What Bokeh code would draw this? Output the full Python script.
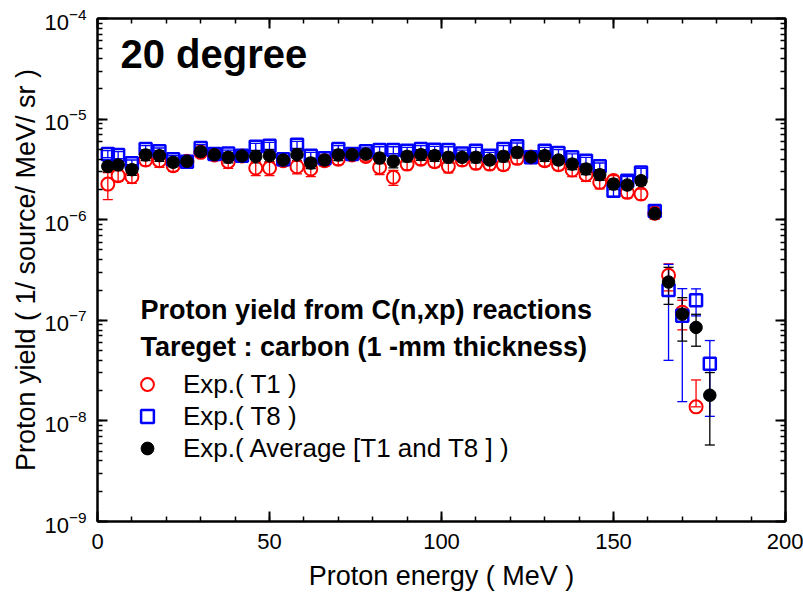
import math
from bokeh.plotting import figure
from bokeh.models import (Range1d, FixedTicker, LogTickFormatter, LinearAxis, LogAxis,
                          Whisker, TeeHead, ColumnDataSource, Label, Legend, LegendItem,
                          CustomJSTickFormatter)
from bokeh.embed import file_html
from bokeh.resources import INLINE

# ---------------- data ----------------
energy = [3, 6, 10, 14, 18, 22, 26, 30, 34, 38, 42, 46, 50, 54, 58, 62, 66, 70, 74, 78,
          82, 86, 90, 94, 98, 102, 106, 110, 114, 118, 122, 126, 130, 134, 138, 142, 146,
          150, 154, 158, 162, 166, 170, 174, 178]

# yields in units of 1e-6 (1/source/MeV/sr)
t1 = [2.26, 2.74, 2.67, 3.92, 3.86, 3.44, 3.80, 4.67, 4.40, 3.77, 4.30, 3.26, 3.26, 3.86,
      3.36, 3.19, 3.86, 4.00, 4.40, 4.26, 3.31, 2.64, 3.57, 4.00, 3.77, 3.39, 3.92, 3.63,
      3.57, 3.52, 4.07, 4.20, 3.86, 3.52, 3.12, 2.80, 2.35, 2.45, 1.87, 1.80, 1.16, 0.28,
      0.12, 0.0138, float("nan")]
t8 = [4.50, 4.40, 3.63, 5.04, 4.78, 4.00, 3.77, 5.15, 4.50, 4.56, 4.33, 5.32, 5.44, 4.00,
      5.56, 4.33, 4.07, 5.04, 4.50, 4.78, 4.92, 4.92, 4.85, 5.04, 4.96, 4.92, 4.56, 4.85,
      4.33, 5.04, 5.36, 4.17, 4.85, 4.60, 4.17, 3.86, 3.39, 1.94, 2.44, 2.95, 1.22, 0.20,
      0.111, 0.158, 0.037]
avg = [3.39, 3.50, 3.14, 4.40, 4.33, 3.72, 3.80, 4.74, 4.43, 4.17, 4.30, 4.26, 4.33, 3.92,
       4.43, 3.66, 3.92, 4.40, 4.43, 4.50, 4.10, 3.80, 4.26, 4.43, 4.33, 4.17, 4.17, 4.17,
       3.92, 4.26, 4.67, 4.20, 4.33, 3.92, 3.57, 3.19, 2.80, 2.26, 2.21, 2.44, 1.15, 0.24,
       0.115, 0.085, 0.018]

# relative errors (fractions)
t1_err_lo = [0.30, 0.12, 0.14, 0.12, 0.14, 0.12, 0.12, 0.10, 0.10, 0.14, 0.10, 0.16, 0.16, 0.12,
             0.15, 0.16, 0.12, 0.12, 0.10, 0.10, 0.15, 0.17, 0.12, 0.12, 0.12, 0.14, 0.12, 0.12,
             0.12, 0.12, 0.12, 0.10, 0.12, 0.12, 0.14, 0.14, 0.14, 0.12, 0.12, 0.12, 0.10, 0.30,
             0.33, 0.0, 0.0]
t1_err_hi = [0.30, 0.12, 0.14, 0.12, 0.14, 0.12, 0.12, 0.10, 0.10, 0.14, 0.10, 0.16, 0.16, 0.12,
             0.15, 0.16, 0.12, 0.12, 0.10, 0.10, 0.15, 0.17, 0.12, 0.12, 0.12, 0.14, 0.12, 0.12,
             0.12, 0.12, 0.12, 0.10, 0.12, 0.12, 0.14, 0.14, 0.14, 0.12, 0.12, 0.12, 0.10, 0.30,
             0.32, 0.85, 0.0]
t8_err = [0.08, 0.08, 0.08, 0.08, 0.08, 0.08, 0.10, 0.08, 0.08, 0.08, 0.08, 0.08, 0.08, 0.08,
          0.08, 0.08, 0.08, 0.08, 0.08, 0.08, 0.08, 0.08, 0.08, 0.08, 0.08, 0.08, 0.08, 0.08,
          0.08, 0.08, 0.08, 0.08, 0.08, 0.08, 0.08, 0.08, 0.08, 0.12, 0.10, 0.10, 0.10, 0.80,
          0.86, 0.30, 0.70]
avg_err = [0.12, 0.10, 0.12, 0.12, 0.12, 0.10, 0.10, 0.10, 0.10, 0.12, 0.10, 0.14, 0.14, 0.10,
           0.14, 0.12, 0.10, 0.12, 0.10, 0.10, 0.12, 0.14, 0.12, 0.12, 0.12, 0.12, 0.10, 0.12,
           0.10, 0.12, 0.12, 0.10, 0.12, 0.10, 0.12, 0.12, 0.12, 0.12, 0.10, 0.10, 0.12, 0.40,
           0.46, 0.35, 0.68]

x_major = [0, 50, 100, 150, 200]
y_major_exp = [-9, -8, -7, -6, -5, -4]

FONT = "Liberation Sans"
UNIT = 1e-6


def make_source(vals, lo, hi):
    xs, ys, ls, us = [], [], [], []
    for e, v, a, b in zip(energy, vals, lo, hi):
        if v is None or math.isnan(v):
            continue
        y = v * UNIT
        xs.append(e)
        ys.append(y)
        ls.append(y * (1 - a))
        us.append(y * (1 + b))
    return ColumnDataSource(dict(x=xs, y=ys, lower=ls, upper=us))


src_t1 = make_source(t1, t1_err_lo, t1_err_hi)
src_t8 = make_source(t8, t8_err, t8_err)
src_avg = make_source(avg, avg_err, avg_err)

p = figure(width=803, height=597, y_axis_type="log",
           x_range=Range1d(0, 200), y_range=Range1d(1e-9, 1e-4),
           output_backend="svg", toolbar_location=None,
           min_border_left=97, min_border_right=18, min_border_top=18, min_border_bottom=76)
p.xgrid.visible = False
p.ygrid.visible = False
p.outline_line_color = "black"
p.outline_line_width = 2
p.background_fill_color = "white"
p.border_fill_color = "white"

x_ticker = FixedTicker(ticks=x_major, minor_ticks=list(range(0, 201, 10)))
y_ticks = [10.0 ** e for e in y_major_exp]
y_minor = [m * 10.0 ** e for e in y_major_exp[:-1] for m in range(1, 10)]
y_ticker = FixedTicker(ticks=y_ticks, minor_ticks=y_minor)


def style_axis(ax):
    ax.major_tick_in = 10
    ax.major_tick_out = 0
    ax.minor_tick_in = 5
    ax.minor_tick_out = 0
    ax.major_tick_line_width = 2
    ax.minor_tick_line_width = 1.5
    ax.axis_line_width = 2
    ax.major_tick_line_color = "black"
    ax.minor_tick_line_color = "black"
    ax.axis_line_color = "black"
    ax.major_label_text_font = FONT
    ax.major_label_text_color = "black"
    ax.major_label_text_font_size = "22px"
    ax.axis_label_text_font = FONT
    ax.axis_label_text_font_size = "27px"
    ax.axis_label_text_font_style = "normal"
    ax.axis_label_text_color = "black"


xa = p.xaxis[0]
xa.ticker = x_ticker
style_axis(xa)
xa.major_label_standoff = 12
xa.axis_label = "Proton energy ( MeV )"
xa.axis_label_standoff = 9

ya = p.yaxis[0]
ya.ticker = y_ticker
ya.formatter = LogTickFormatter()
style_axis(ya)
ya.major_label_standoff = 11
ya.axis_label = "Proton yield ( 1/ source/ MeV/ sr )"
ya.axis_label_standoff = 0

blank = CustomJSTickFormatter(code="return ''")
top = LinearAxis(ticker=x_ticker, formatter=blank)
style_axis(top)
top.major_label_standoff = 0
p.add_layout(top, "above")
right = LogAxis(ticker=y_ticker, formatter=blank)
style_axis(right)
right.major_label_standoff = 0
p.add_layout(right, "right")

# markers
r_t1 = p.scatter("x", "y", source=src_t1, marker="circle", size=13,
                 line_color="#ff0000", line_width=2, fill_color=None)
r_t8 = p.scatter("x", "y", source=src_t8, marker="square", size=12,
                 line_color="#0000ff", line_width=2.5, fill_color=None)
r_avg = p.scatter("x", "y", source=src_avg, marker="circle", size=12.5,
                  line_color="black", fill_color="black")

for src, col in [(src_t1, "#ff0000"), (src_t8, "#0000ff"), (src_avg, "black")]:
    w = Whisker(base="x", lower="lower", upper="upper", source=src,
                line_color=col, line_width=1.3,
                upper_head=TeeHead(size=10, line_color=col, line_width=1.3),
                lower_head=TeeHead(size=10, line_color=col, line_width=1.3))
    p.add_layout(w)

# annotations
p.add_layout(Label(x=23, y=468, x_units="screen", y_units="screen", text="20 degree",
                   text_font=FONT, text_font_size="40px", text_font_style="bold",
                   text_color="black", text_baseline="alphabetic"))
p.add_layout(Label(x=43, y=212, x_units="screen", y_units="screen",
                   text="Proton yield from C(n,xp) reactions",
                   text_font=FONT, text_font_size="27px", text_font_style="bold",
                   text_color="black", text_baseline="alphabetic"))
p.add_layout(Label(x=43, y=175, x_units="screen", y_units="screen",
                   text="Tareget : carbon (1 -mm thickness)",
                   text_font=FONT, text_font_size="27px", text_font_style="bold",
                   text_color="black", text_baseline="alphabetic"))

legend = Legend(items=[LegendItem(label="Exp.( T1 )", renderers=[r_t1]),
                       LegendItem(label="Exp.( T8 )", renderers=[r_t8]),
                       LegendItem(label="Exp.( Average [T1 and T8 ] )", renderers=[r_avg])],
                location=(34, 57), orientation="vertical",
                background_fill_alpha=0, border_line_color=None,
                padding=0, margin=0, spacing=0,
                glyph_width=32, glyph_height=32, label_height=30, label_standoff=20,
                label_text_font=FONT, label_text_font_size="26px", label_text_color="black")
p.add_layout(legend)

open("out.html", "w").write(file_html(p, INLINE))
